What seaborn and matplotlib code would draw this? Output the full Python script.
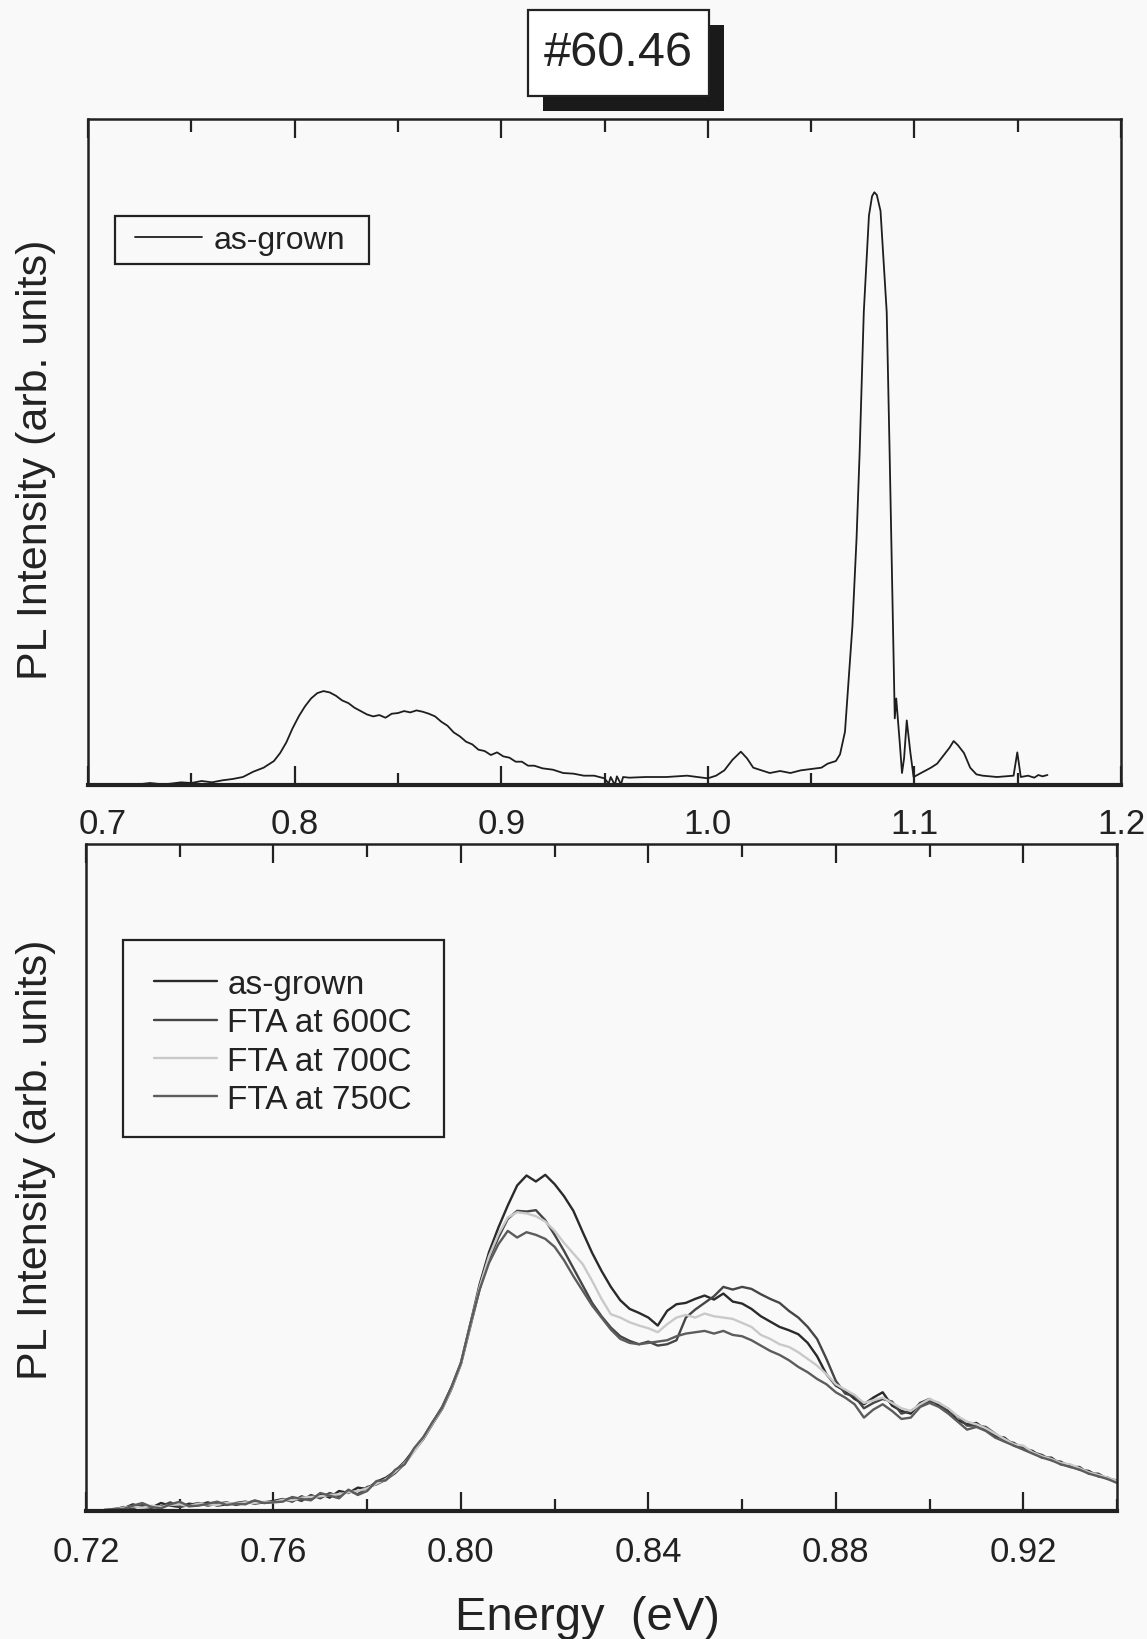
import numpy as np
import pandas as pd
import matplotlib
matplotlib.use("Agg")
import matplotlib.pyplot as plt
import matplotlib.patches as mpatches
from matplotlib import font_manager
from matplotlib.lines import Line2D
from matplotlib.ticker import MultipleLocator, FormatStrFormatter
from matplotlib.transforms import ScaledTranslation
import seaborn as sns

# ---------------- data ----------------
title_text = "#60.46"
x_label = "Energy  (eV)"
y_label = "PL Intensity (arb. units)"

# top panel: as-grown spectrum over the wide range
top_energy = [0.722, 0.730, 0.736, 0.740, 0.745, 0.750, 0.755, 0.760, 0.765, 0.770,
              0.775, 0.780, 0.785, 0.790, 0.793, 0.796, 0.799, 0.802, 0.805, 0.808,
              0.811, 0.814, 0.817, 0.820, 0.823, 0.826, 0.829, 0.832, 0.835, 0.838,
              0.841, 0.844, 0.847, 0.850, 0.853, 0.856, 0.859, 0.862, 0.865, 0.868,
              0.871, 0.874, 0.877, 0.880, 0.883, 0.886, 0.889, 0.892, 0.895, 0.898,
              0.901, 0.904, 0.907, 0.910, 0.913, 0.916, 0.920, 0.925, 0.930, 0.935,
              0.940, 0.945, 0.950, 0.952, 0.953, 0.955, 0.956, 0.958, 0.959, 0.962,
              0.970, 0.980, 0.990, 0.995, 1.000, 1.004, 1.008, 1.012, 1.016, 1.019,
              1.022, 1.026, 1.030, 1.035, 1.040, 1.045, 1.050, 1.055, 1.058, 1.062,
              1.064, 1.0664, 1.068, 1.070, 1.072, 1.0735, 1.0755, 1.078, 1.0795, 1.0806,
              1.0818, 1.0836, 1.0866, 1.088, 1.089, 1.090, 1.0905, 1.0912, 1.093, 1.094,
              1.095, 1.0963, 1.098, 1.0996, 1.102, 1.1045, 1.108, 1.111, 1.114, 1.117,
              1.119, 1.121, 1.124, 1.127, 1.130, 1.133, 1.140, 1.148, 1.1498, 1.1515,
              1.155, 1.158, 1.160, 1.162, 1.1644]
top_as_grown = [0.000, 0.003, 0.001, 0.002, 0.004, 0.003, 0.006, 0.004, 0.007, 0.009,
                0.012, 0.020, 0.026, 0.036, 0.048, 0.064, 0.085, 0.103, 0.118, 0.130,
                0.138, 0.141, 0.139, 0.134, 0.127, 0.123, 0.116, 0.111, 0.106, 0.103,
                0.105, 0.101, 0.107, 0.108, 0.111, 0.109, 0.112, 0.110, 0.107, 0.103,
                0.095, 0.089, 0.079, 0.073, 0.065, 0.061, 0.053, 0.051, 0.045, 0.049,
                0.043, 0.041, 0.035, 0.035, 0.029, 0.029, 0.025, 0.023, 0.018, 0.017,
                0.014, 0.014, 0.010, 0.002, 0.012, 0.000, 0.013, 0.001, 0.012, 0.011,
                0.012, 0.012, 0.014, 0.012, 0.010, 0.014, 0.022, 0.038, 0.050, 0.040,
                0.026, 0.022, 0.018, 0.021, 0.018, 0.022, 0.024, 0.026, 0.032, 0.036,
                0.046, 0.080, 0.150, 0.239, 0.370, 0.500, 0.710, 0.855, 0.884, 0.890,
                0.886, 0.862, 0.710, 0.500, 0.340, 0.180, 0.100, 0.130, 0.060, 0.018,
                0.040, 0.097, 0.050, 0.012, 0.016, 0.020, 0.026, 0.032, 0.044, 0.056,
                0.066, 0.060, 0.048, 0.026, 0.016, 0.014, 0.012, 0.014, 0.049, 0.012,
                0.014, 0.011, 0.015, 0.013, 0.015]

# bottom panel: four spectra on a common energy grid 0.724 ... 0.940 (step 0.002)
bottom_energy = np.round(np.linspace(0.724, 0.940, 109), 3)
series_names = ["as-grown", "FTA at 600C", "FTA at 700C", "FTA at 750C"]
as_grown = [0.002, 0.003, 0.004, 0.010, 0.006, 0.005, 0.012, 0.008, 0.006, 0.011, 0.009, 0.013, 0.008, 0.010, 0.012, 0.014, 0.011, 0.013, 0.015,
            0.018, 0.014, 0.022, 0.017, 0.026, 0.020, 0.030, 0.027, 0.035, 0.033, 0.044, 0.050, 0.060, 0.074, 0.092,
            0.110, 0.133, 0.156, 0.186, 0.222, 0.280, 0.340, 0.388, 0.425, 0.458, 0.488, 0.503, 0.494, 0.504, 0.490,
            0.472, 0.450, 0.418, 0.387, 0.360, 0.336, 0.316, 0.303, 0.297, 0.290, 0.278, 0.300, 0.310, 0.312, 0.318,
            0.323, 0.317, 0.326, 0.314, 0.311, 0.303, 0.292, 0.284, 0.276, 0.271, 0.265, 0.252, 0.232, 0.205, 0.188,
            0.180, 0.168, 0.160, 0.170, 0.178, 0.158, 0.150, 0.146, 0.162, 0.168, 0.158, 0.150, 0.136, 0.130, 0.132,
            0.122, 0.112, 0.110, 0.098, 0.094, 0.090, 0.080, 0.080, 0.070, 0.068, 0.062, 0.060, 0.052, 0.050, 0.044]
fta_600 = [0.001, 0.002, 0.006, 0.004, 0.009, 0.005, 0.007, 0.013, 0.006, 0.009, 0.012, 0.008, 0.011, 0.013, 0.009, 0.012, 0.015, 0.012, 0.014,
           0.016, 0.020, 0.015, 0.024, 0.019, 0.027, 0.022, 0.031, 0.025, 0.036, 0.040, 0.047, 0.057, 0.071, 0.090,
           0.108, 0.131, 0.153, 0.183, 0.220, 0.276, 0.333, 0.378, 0.410, 0.438, 0.450, 0.449, 0.451, 0.436, 0.414,
           0.390, 0.364, 0.338, 0.312, 0.292, 0.275, 0.262, 0.255, 0.250, 0.254, 0.248, 0.250, 0.256, 0.290, 0.302,
           0.312, 0.322, 0.336, 0.332, 0.336, 0.333, 0.325, 0.318, 0.312, 0.300, 0.290, 0.276, 0.258, 0.228, 0.195,
           0.176, 0.172, 0.154, 0.162, 0.168, 0.164, 0.146, 0.150, 0.158, 0.164, 0.162, 0.148, 0.142, 0.128, 0.128,
           0.126, 0.116, 0.106, 0.102, 0.094, 0.088, 0.084, 0.076, 0.074, 0.066, 0.066, 0.056, 0.056, 0.048, 0.046]
fta_700 = [0.002, 0.002, 0.005, 0.007, 0.005, 0.008, 0.006, 0.009, 0.010, 0.007, 0.011, 0.010, 0.009, 0.012, 0.011, 0.013, 0.012, 0.014, 0.013,
           0.017, 0.016, 0.020, 0.021, 0.022, 0.024, 0.025, 0.028, 0.030, 0.034, 0.041, 0.048, 0.059, 0.072, 0.089,
           0.109, 0.132, 0.154, 0.184, 0.221, 0.278, 0.336, 0.382, 0.415, 0.440, 0.448, 0.446, 0.442, 0.434, 0.420,
           0.402, 0.386, 0.370, 0.345, 0.318, 0.295, 0.290, 0.283, 0.278, 0.274, 0.268, 0.280, 0.290, 0.294, 0.290,
           0.296, 0.292, 0.290, 0.288, 0.282, 0.276, 0.264, 0.258, 0.250, 0.246, 0.238, 0.228, 0.218, 0.205, 0.190,
           0.182, 0.174, 0.162, 0.166, 0.170, 0.162, 0.154, 0.150, 0.160, 0.168, 0.162, 0.154, 0.142, 0.134, 0.130,
           0.124, 0.116, 0.108, 0.100, 0.098, 0.088, 0.082, 0.078, 0.072, 0.070, 0.064, 0.058, 0.054, 0.050, 0.045]
fta_750 = [0.001, 0.003, 0.003, 0.008, 0.012, 0.006, 0.004, 0.010, 0.014, 0.007, 0.008, 0.011, 0.014, 0.009, 0.011, 0.010, 0.016, 0.012, 0.013,
           0.014, 0.021, 0.018, 0.016, 0.027, 0.023, 0.019, 0.032, 0.024, 0.030, 0.045, 0.046, 0.062, 0.070, 0.094,
           0.111, 0.134, 0.155, 0.186, 0.222, 0.280, 0.332, 0.372, 0.400, 0.420, 0.410, 0.418, 0.414, 0.408, 0.396,
           0.376, 0.352, 0.330, 0.308, 0.290, 0.272, 0.258, 0.252, 0.250, 0.252, 0.254, 0.256, 0.262, 0.266, 0.268,
           0.270, 0.266, 0.270, 0.264, 0.262, 0.256, 0.248, 0.240, 0.234, 0.226, 0.216, 0.208, 0.198, 0.190, 0.178,
           0.170, 0.160, 0.140, 0.152, 0.160, 0.150, 0.138, 0.140, 0.156, 0.162, 0.156, 0.146, 0.134, 0.122, 0.126,
           0.120, 0.110, 0.104, 0.098, 0.092, 0.086, 0.080, 0.076, 0.070, 0.066, 0.062, 0.056, 0.052, 0.048, 0.042]
series_colors = ["#2a2a2a", "#454545", "#c9c9c9", "#5c5c5c"]

# ---------------- style ----------------
sns.set_theme(style="white")
plt.rcParams["font.family"] = ["Liberation Sans", "DejaVu Sans"]
installed = {f.name for f in font_manager.fontManager.ttflist}
if "Liberation Sans Narrow" in installed:
    tick_family, tick_size = ["Liberation Sans Narrow", "Liberation Sans"], 27
else:
    tick_family, tick_size = ["Liberation Sans", "DejaVu Sans"], 25
bg = "#f9f9f9"
ink = "#222222"

fig = plt.figure(figsize=(11.47, 16.40), dpi=100, facecolor=bg)
ax_top = fig.add_axes([88 / 1147, 1 - 786 / 1640, 1033 / 1147, 666 / 1640])
ax_bot = fig.add_axes([86 / 1147, 1 - 1512 / 1640, 1031 / 1147, 667 / 1640])

# ---------------- top panel ----------------
df_top = pd.DataFrame({"Energy": top_energy, "PL": top_as_grown})
sns.lineplot(data=df_top, x="Energy", y="PL", ax=ax_top, color="#1e1e1e",
             linewidth=1.3, estimator=None, legend=False)
ax_top.set_xlim(0.7, 1.2)
ax_top.set_ylim(0, 1.0)
ax_top.xaxis.set_major_locator(MultipleLocator(0.1))
ax_top.xaxis.set_minor_locator(MultipleLocator(0.05))
ax_top.xaxis.set_major_formatter(FormatStrFormatter("%.1f"))

# ---------------- bottom panel ----------------
frames = []
for name, vals in zip(series_names, [as_grown, fta_600, fta_700, fta_750]):
    frames.append(pd.DataFrame({"Energy": bottom_energy, "PL": vals, "Sample": name}))
df_bot = pd.concat(frames, ignore_index=True)
sns.lineplot(data=df_bot, x="Energy", y="PL", hue="Sample", hue_order=series_names,
             palette=series_colors, ax=ax_bot, linewidth=1.7, estimator=None, legend=False)
ax_bot.set_xlim(0.72, 0.94)
ax_bot.set_ylim(0, 1.0)
ax_bot.xaxis.set_major_locator(MultipleLocator(0.04))
ax_bot.xaxis.set_minor_locator(MultipleLocator(0.02))
ax_bot.xaxis.set_major_formatter(FormatStrFormatter("%.2f"))

for ax, pad in ((ax_top, 15.5), (ax_bot, 17.5)):
    ax.set_facecolor(bg)
    ax.set_yticks([])
    ax.tick_params(axis="x", which="both", direction="in", top=True, bottom=True,
                   color=ink, labelsize=tick_size, labelcolor=ink, pad=pad)
    ax.tick_params(axis="x", which="major", length=14, width=1.6)
    ax.tick_params(axis="x", which="minor", length=9, width=1.6)
    for lbl in ax.get_xticklabels():
        lbl.set_family(tick_family)
    for side in ("left", "right", "top"):
        ax.spines[side].set_color(ink)
        ax.spines[side].set_linewidth(1.8)
        ax.spines[side].set_visible(True)
    ax.spines["bottom"].set_color(ink)
    ax.spines["bottom"].set_linewidth(3.0)
    ax.spines["bottom"].set_visible(True)
    ax.set_ylabel(y_label, fontsize=31, color=ink)
    ax.set_xlabel("")

ax_top.yaxis.set_label_coords(-0.031, 0.49)
ax_bot.yaxis.set_label_coords(-0.029, 0.528)
ax_bot.set_xlabel(x_label, fontsize=34, color=ink)
ax_bot.xaxis.set_label_coords(0.486, -0.126)

# ---------------- legends ----------------
ax_top.add_patch(mpatches.Rectangle((0.026, 0.782), 0.246, 0.072, transform=ax_top.transAxes,
                                    facecolor=bg, edgecolor=ink, linewidth=1.6, zorder=3))
leg_top = ax_top.legend(handles=[Line2D([], [], color="#1e1e1e", lw=1.3)], labels=["as-grown"],
                        loc="center left", bbox_to_anchor=(0.0455, 0.818), frameon=False,
                        fontsize=23, borderpad=0, handlelength=2.1, handletextpad=0.35,
                        borderaxespad=0)
leg_top.set_zorder(4)
for t in leg_top.get_texts():
    t.set_color(ink)

ax_bot.add_patch(mpatches.Rectangle((0.0359, 0.561), 0.311, 0.295, transform=ax_bot.transAxes,
                                    facecolor=bg, edgecolor=ink, linewidth=1.6, zorder=3))
leg_bot = ax_bot.legend(handles=[Line2D([], [], color=c, lw=1.7) for c in series_colors],
                        labels=series_names, loc="upper left", bbox_to_anchor=(0.066, 0.8125),
                        frameon=False, fontsize=24, borderpad=0, handlelength=1.9,
                        handletextpad=0.3, labelspacing=0.22, borderaxespad=0)
leg_bot.set_zorder(4)
for t in leg_bot.get_texts():
    t.set_color(ink)

# ---------------- title box with shadow ----------------
fig.add_artist(mpatches.Rectangle((543 / 1147, 1 - 112 / 1640), 181 / 1147, 86 / 1640,
                                  transform=fig.transFigure, facecolor="#1a1a1a",
                                  edgecolor="none", zorder=5))
fig.add_artist(mpatches.Rectangle((528 / 1147, 1 - 97 / 1640), 181 / 1147, 86 / 1640,
                                  transform=fig.transFigure, facecolor="white",
                                  edgecolor=ink, linewidth=1.6, zorder=6))
fig.text(618 / 1147, 1 - 54 / 1640, title_text, ha="center", va="center",
         fontsize=35, color=ink, zorder=7)

# the first tick label of the top panel sits slightly right of the axis corner
fig.canvas.draw()
for tick in ax_top.xaxis.get_major_ticks():
    if abs(tick.get_loc() - 0.7) < 1e-9:
        tick.label1.set_transform(tick.label1.get_transform()
                                  + ScaledTranslation(0.15, 0, fig.dpi_scale_trans))

fig.savefig("out.png", dpi=100, facecolor=bg)
